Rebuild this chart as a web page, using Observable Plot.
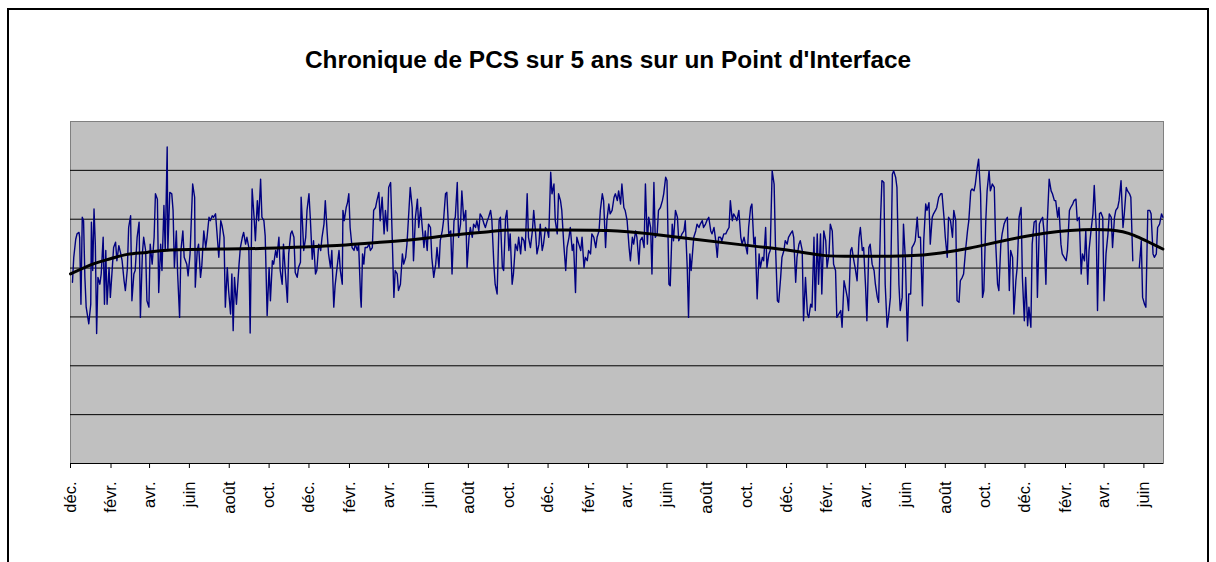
<!DOCTYPE html>
<html><head><meta charset="utf-8">
<script src="https://cdn.jsdelivr.net/npm/d3@7"></script>
<script src="https://cdn.jsdelivr.net/npm/@observablehq/plot@0.6"></script>
<style>
html,body{margin:0;padding:0;background:#fff;width:1216px;height:562px;overflow:hidden;font-family:"Liberation Sans",Arial,sans-serif;}
#outer{position:absolute;left:7px;top:8px;width:1202px;height:620px;box-sizing:border-box;border:2px solid #000;}
#wrap{position:absolute;left:0;top:0;width:1216px;}
#title{height:90px;box-sizing:border-box;padding-top:46px;line-height:28px;font-size:24.4px;font-weight:bold;text-align:center;color:#000;}
</style></head>
<body>
<div id="outer"></div>
<div id="wrap"><div id="title">Chronique de PCS sur 5 ans sur un Point d'Interface</div><div id="chart"></div></div>
<script>
// PCS (Wh/m³) — [jour depuis le 1er déc. 2002, valeur]
const startDate = "2002-12-01";
const endDate = "2007-07-01";
const monthLabels = ["janv.","févr.","mars","avr.","mai","juin","juil.","août","sept.","oct.","nov.","déc."];
const gridValues = [11000, 11100, 11200, 11300, 11400, 11500];
const yDomain = [10900, 11600];

const pcsA = [[3,11271],[5,11322],[8,11359],[10,11370],[13,11373],[14,11363],[16,11226],[18,11404],[20,11397],[22,11281],[24,11220],[28,11186],[31,11226],[32,11394],[34,11295],[36,11421],[38,11349],[40,11166],[42,11281],[45,11267],[47,11288],[50,11363],[52,11226],[54,11336],[56,11226],[59,11301],[61,11240],[64,11301],[66,11342],[69,11353],[71,11315],[74,11346],[77,11329],[79,11315],[82,11274],[84,11254],[87,11298],[89,11383],[92,11407],[94,11233],[97,11288],[99,11295],[102,11363],[105,11394],[107,11199],[110,11329],[112,11363],[115,11336],[117,11233],[120,11220],[122,11349],[125,11308],[128,11363],[130,11452],[133,11441],[135,11250],[138,11349],[140,11295],[143,11428],[145,11336],[148,11548],[149,11336],[152,11455],[155,11452],[157,11418],[159,11301],[162,11376],[164,11288],[167,11199],[169,11336],[172,11376],[174,11322],[178,11308],[180,11284],[183,11329],[187,11472],[190,11445],[191,11261],[194,11336],[196,11349],[199,11281],[201,11305],[204,11376],[207,11342],[209,11363],[212,11404],[214,11397],[217,11407],[219,11404],[222,11411],[224,11376],[227,11322],[230,11397],[232,11387],[235,11363],[237,11220],[240,11301],[242,11254],[245,11206],[247,11288],[249,11172],[251,11281],[254,11226],[258,11308],[260,11342],[263,11363],[265,11373],[268,11349],[270,11363],[273,11342],[275,11167],[278,11462],[281,11404],[283,11356],[286,11438],[288,11397],[291,11482],[293,11404],[296,11397],[298,11366],[301,11203],[304,11301],[306,11233],[309,11315],[311,11308],[314,11336],[316,11322],[319,11363],[321,11295],[324,11267],[326,11349],[329,11288],[332,11230],[334,11329],[337,11370],[339,11376],[342,11363],[344,11291],[347,11281],[349,11301],[352,11312],[353,11445],[355,11394],[357,11336],[360,11363],[362,11418],[365,11452],[367,11404],[370,11318],[372,11356],[375,11288],[377,11295],[380,11349],[383,11336],[385,11363],[388,11390],[390,11438],[393,11370],[395,11329],[398,11301],[400,11336],[403,11220],[405,11264],[408,11301],[411,11336],[413,11295],[416,11267],[417,11418],[419,11397],[422,11424],[424,11434],[426,11452],[428,11383],[431,11342],[434,11336],[436,11349],[439,11336],[441,11349]];

const pcsB = [[444,11240],[445,11220],[447,11329],[449,11308],[451,11342],[454,11342],[457,11349],[459,11336],[462,11342],[464,11418],[467,11424],[469,11438],[472,11455],[474,11397],[477,11445],[480,11370],[482,11418],[485,11376],[487,11465],[490,11475],[492,11383],[495,11240],[497,11295],[500,11288],[502,11254],[505,11267],[508,11329],[510,11308],[513,11322],[515,11349],[518,11418],[520,11465],[523,11424],[525,11315],[528,11404],[531,11441],[533,11383],[536,11424],[538,11390],[541,11342],[543,11376],[546,11336],[548,11390],[551,11383],[553,11322],[556,11281],[559,11308],[561,11342],[564,11301],[566,11356],[569,11376],[571,11397],[574,11452],[576,11455],[579,11370],[582,11376],[584,11288],[587,11397],[589,11404],[592,11475],[594,11363],[597,11390],[599,11458],[602,11397],[605,11418],[607,11301],[610,11363],[612,11383],[615,11363],[617,11390],[620,11383],[622,11397],[625,11376],[627,11411],[630,11404],[633,11390],[635,11383],[638,11397],[640,11404],[643,11418],[645,11397],[648,11308],[650,11267],[653,11247],[656,11397],[658,11404],[661,11301],[663,11295],[666,11404],[668,11418],[671,11336],[673,11370],[676,11267],[678,11288],[681,11349],[684,11336],[686,11363],[689,11329],[691,11363],[694,11356],[696,11336],[699,11452],[701,11363],[704,11342],[707,11376],[709,11418],[712,11370],[714,11329],[717,11349],[719,11390],[722,11336],[724,11349],[727,11383],[730,11376],[732,11363],[735,11496],[737,11452],[740,11472],[742,11397],[745,11370],[747,11452],[750,11438],[752,11418],[755,11349],[758,11295],[760,11342],[763,11363],[765,11383],[768,11336],[770,11349],[773,11250],[775,11363],[778,11349],[781,11336],[783,11363],[786,11301],[788,11322],[791,11315],[793,11336],[796,11329],[798,11370],[801,11363],[804,11342],[806,11363],[809,11376],[811,11418],[814,11452],[816,11438],[819,11342],[821,11397],[824,11431],[826,11411],[829,11418],[832,11445],[834,11452],[837,11438],[839,11458],[842,11431],[844,11472],[847,11424],[849,11418],[852,11397],[855,11342],[857,11315],[860,11363],[862,11349],[865,11376],[867,11363],[870,11308],[872,11356]];

const pcsC = [[875,11363],[878,11342],[880,11472],[883,11349],[885,11404],[888,11383],[890,11288],[893,11475],[895,11363],[898,11370],[900,11418],[903,11424],[906,11438],[908,11452],[911,11486],[913,11479],[916,11267],[918,11264],[921,11390],[923,11356],[926,11418],[929,11404],[931,11356],[934,11363],[936,11370],[939,11376],[941,11397],[944,11301],[946,11199],[948,11329],[950,11295],[952,11329],[954,11363],[957,11376],[959,11390],[962,11383],[964,11390],[967,11397],[969,11383],[972,11390],[974,11397],[977,11404],[980,11376],[982,11370],[985,11383],[987,11363],[990,11322],[992,11363],[995,11363],[997,11356],[1000,11370],[1003,11370],[1005,11376],[1008,11383],[1010,11438],[1013,11397],[1015,11411],[1018,11404],[1020,11397],[1023,11418],[1026,11363],[1028,11349],[1031,11363],[1033,11349],[1036,11329],[1038,11383],[1041,11424],[1043,11431],[1046,11349],[1048,11363],[1051,11237],[1054,11329],[1056,11301],[1059,11322],[1061,11315],[1064,11383],[1066,11301],[1069,11329],[1071,11336],[1074,11499],[1077,11472],[1079,11349],[1082,11233],[1084,11230],[1087,11281],[1089,11322],[1092,11336],[1094,11356],[1097,11349],[1099,11363],[1102,11370],[1105,11376],[1107,11363],[1110,11271],[1112,11322],[1115,11349],[1117,11356],[1120,11336],[1122,11192],[1125,11281],[1128,11206],[1130,11199],[1133,11226],[1135,11220],[1138,11363],[1140,11213],[1143,11370],[1145,11267],[1148,11370],[1150,11247],[1153,11376],[1156,11356],[1158,11301],[1161,11329],[1163,11390],[1166,11376],[1168,11308],[1171,11295],[1173,11199],[1176,11206],[1179,11213],[1181,11179],[1184,11274],[1186,11261],[1189,11240],[1191,11213],[1194,11336],[1196,11342],[1199,11315],[1201,11301],[1204,11274],[1207,11363],[1209,11383],[1212,11336],[1214,11342],[1217,11261],[1219,11192],[1222,11342],[1224,11349],[1227,11308],[1230,11295],[1232,11267],[1235,11240],[1237,11230],[1240,11404],[1242,11479],[1245,11475],[1247,11267],[1250,11179],[1252,11199],[1255,11240],[1258,11492],[1260,11499],[1263,11486],[1265,11465],[1268,11267],[1270,11213],[1273,11240],[1275,11390],[1278,11315],[1281,11151],[1283,11247],[1286,11247],[1288,11342],[1291,11349],[1293,11356],[1296,11404],[1298,11363],[1301,11363],[1304,11223],[1306,11356]];

const pcsD = [[1309,11431],[1311,11418],[1314,11434],[1316,11349],[1319,11404],[1321,11411],[1324,11418],[1326,11424],[1329,11445],[1332,11452],[1334,11452],[1337,11404],[1339,11363],[1342,11322],[1344,11404],[1347,11397],[1350,11363],[1352,11418],[1355,11397],[1357,11233],[1360,11230],[1362,11274],[1365,11281],[1367,11288],[1370,11336],[1373,11376],[1375,11397],[1378,11458],[1380,11462],[1383,11458],[1385,11472],[1388,11506],[1390,11523],[1393,11452],[1396,11240],[1398,11254],[1401,11397],[1403,11458],[1406,11499],[1408,11458],[1411,11472],[1414,11465],[1416,11356],[1419,11267],[1421,11254],[1424,11349],[1426,11370],[1429,11390],[1431,11397],[1434,11404],[1437,11254],[1439,11336],[1442,11322],[1444,11206],[1447,11274],[1449,11301],[1452,11404],[1455,11424],[1457,11281],[1460,11192],[1462,11281],[1465,11182],[1467,11220],[1470,11179],[1472,11349],[1475,11394],[1478,11397],[1480,11240],[1483,11390],[1485,11397],[1488,11404],[1490,11376],[1493,11267],[1495,11390],[1498,11482],[1501,11458],[1503,11452],[1506,11438],[1508,11438],[1511,11404],[1513,11424],[1516,11349],[1518,11329],[1521,11322],[1524,11315],[1526,11336],[1529,11418],[1531,11424],[1534,11431],[1536,11438],[1539,11441],[1541,11397],[1544,11404],[1547,11288],[1549,11329],[1552,11315],[1554,11376],[1557,11267],[1559,11336],[1562,11376],[1565,11411],[1567,11469],[1570,11383],[1572,11213],[1575,11411],[1577,11414],[1580,11404],[1582,11233],[1585,11329],[1588,11370],[1590,11411],[1593,11404],[1595,11342],[1598,11404],[1600,11418],[1603,11424],[1605,11438],[1608,11479],[1611,11383],[1613,11411],[1616,11465],[1618,11458],[1621,11452],[1623,11445],[1626,11315],[1627,null],[1636,11301],[1639,11356],[1641,11240],[1644,11226],[1646,11220],[1649,11418],[1652,11418],[1654,11411],[1657,11329],[1659,11322],[1662,11329],[1664,11383],[1667,11390],[1670,11411],[1672,11404]];

// courbe de tendance
const trendPts = [[0,11288],[36,11309],[61,11319],[87,11328],[117,11332],[153,11337],[240,11339],[316,11341],[408,11346],[444,11350],[505,11356],[582,11367],[643,11375],[673,11378],[735,11378],[822,11377],[888,11370],[949,11360],[1025,11348],[1102,11336],[1152,11326],[1204,11324],[1281,11325],[1332,11331],[1377,11341],[1454,11363],[1530,11377],[1592,11378],[1628,11367],[1672,11339]];

const start = new Date(startDate + "T00:00:00Z");
const end = new Date(endDate + "T00:00:00Z");
const toRow = ([d, v]) => ({date: d3.utcDay.offset(start, d), pcs: v});
const series = [...pcsA, ...pcsB, ...pcsC, ...pcsD].map(toRow);
const trend = trendPts.map(toRow);
const tickDates = d3.utcMonth.range(start, end).filter((d, i) => i % 2 === 0);

const chart = Plot.plot({
  width: 1216, height: 472,
  marginLeft: 70, marginRight: 53, marginTop: 31, marginBottom: 99,
  style: {fontFamily: '"Liberation Sans", Arial, sans-serif', background: "transparent", color: "#000", overflow: "visible"},
  x: {type: "utc", domain: [start, end]},
  y: {domain: yDomain, axis: null},
  marks: [
    Plot.frame({fill: "#C0C0C0", stroke: "#808080", strokeWidth: 1}),
    Plot.ruleY(gridValues, {stroke: "#000", strokeWidth: 1}),
    Plot.line(series, {x: "date", y: "pcs", stroke: "#000080", strokeWidth: 1.4}),
    Plot.line(trend, {x: "date", y: "pcs", stroke: "#000", strokeWidth: 3, curve: "natural"}),
    Plot.ruleY([yDomain[0]], {stroke: "#000", strokeWidth: 1}),
    Plot.axisX({ticks: tickDates, tickFormat: d => monthLabels[d.getUTCMonth()], tickRotate: -90, tickSize: 5, tickPadding: 13, fontSize: 16.5, fill: "#000", stroke: "#000"})
  ]
});
document.getElementById("chart").appendChild(chart);
</script>
</body></html>
